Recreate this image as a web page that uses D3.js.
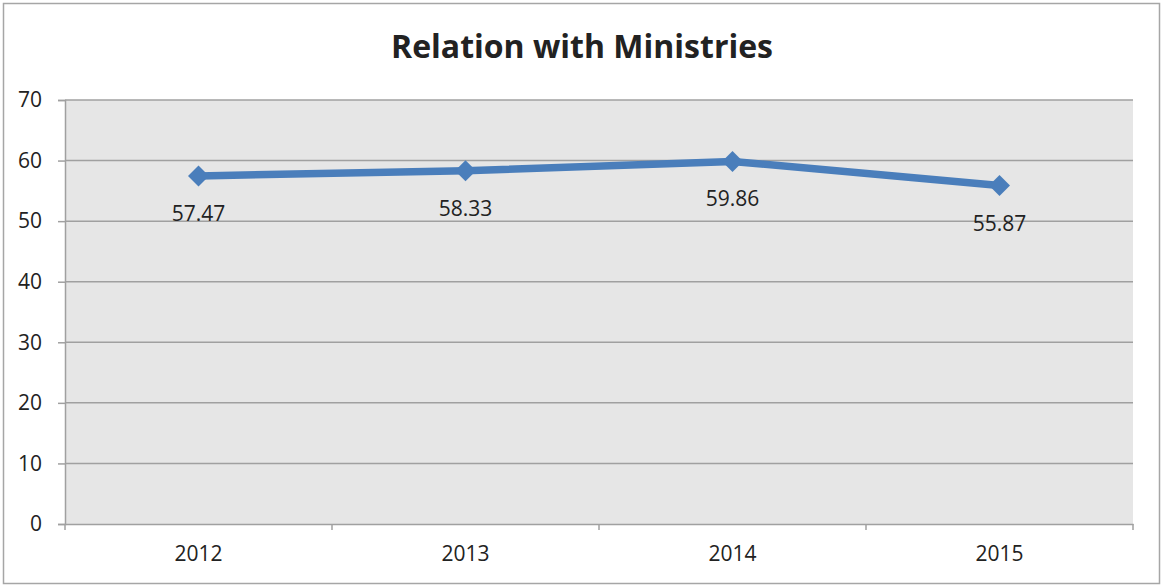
<!DOCTYPE html>
<html>
<head>
<meta charset="utf-8">
<script src="https://cdn.jsdelivr.net/npm/d3@7"></script>
<style>
  body { margin: 0; background: #fff; }
  svg { display: block; }
</style>
</head>
<body>
<div id="chart"></div>
<script>
// Data
const years = ["2012", "2013", "2014", "2015"];
const scores = [57.47, 58.33, 59.86, 55.87];
const yTicks = [0, 10, 20, 30, 40, 50, 60, 70];

var width = 1161;
var height = 585;
var margin = { top: 100, right: 28, bottom: 61, left: 65 };

var svg = d3
  .select("#chart")
  .append("svg")
  .attr("width", width)
  .attr("height", height)
  .style("font-family", "'Open Sans', sans-serif");

// Outer frame
svg
  .append("rect")
  .attr("x", 3.5)
  .attr("y", 3.5)
  .attr("width", width - 5)
  .attr("height", height - 5)
  .attr("fill", "white")
  .attr("stroke", "#a6a6a6")
  .attr("stroke-width", 1.5);

var x = d3
  .scaleBand()
  .domain(years)
  .range([margin.left, width - margin.right]);

var y = d3
  .scaleLinear()
  .domain([0, 70])
  .range([height - margin.bottom, margin.top]);

// Plot background
svg
  .append("rect")
  .attr("x", margin.left)
  .attr("y", margin.top)
  .attr("width", width - margin.left - margin.right)
  .attr("height", height - margin.top - margin.bottom)
  .attr("fill", "#e6e6e6");

// Grid lines
svg
  .selectAll("gridLines")
  .data(yTicks.filter((d) => d > 0))
  .enter()
  .append("line")
  .attr("x1", margin.left)
  .attr("x2", width - margin.right)
  .attr("y1", (d) => y(d))
  .attr("y2", (d) => y(d))
  .attr("stroke", "#a0a0a0")
  .attr("stroke-width", 1.5);

// Y axis
var yAxis = svg
  .append("g")
  .attr("transform", "translate(" + margin.left + ",0)")
  .call(d3.axisLeft(y).tickValues(yTicks).tickSize(7).tickPadding(16));

// X axis: ticks at category boundaries
var xAxis = svg
  .append("g")
  .attr("transform", "translate(0," + y(0) + ")")
  .call(d3.axisBottom(x).tickSize(0).tickPadding(22));

xAxis
  .selectAll("boundaryTicks")
  .data(years.concat(["end"]))
  .enter()
  .append("line")
  .attr("x1", (d, i) => margin.left + i * x.bandwidth())
  .attr("x2", (d, i) => margin.left + i * x.bandwidth())
  .attr("y1", 0)
  .attr("y2", 6)
  .attr("stroke", "#a0a0a0")
  .attr("stroke-width", 1.5);

[yAxis, xAxis].forEach(function (ax) {
  ax.select(".domain").attr("stroke", "#a0a0a0").attr("stroke-width", 1.5);
  ax.selectAll(".tick line").attr("stroke", "#a0a0a0").attr("stroke-width", 1.5);
  ax.selectAll(".tick text")
    .attr("fill", "#222")
    .style("font-size", "21px")
    .style("font-family", "'Open Sans', sans-serif");
});

// Line
var points = years.map((d, i) => ({ year: d, value: scores[i] }));
var line = d3
  .line()
  .x((d) => x(d.year) + x.bandwidth() / 2)
  .y((d) => y(d.value));

svg
  .append("path")
  .datum(points)
  .attr("d", line)
  .attr("fill", "none")
  .attr("stroke", "#4a7ebb")
  .attr("stroke-width", 7.5)
  .attr("stroke-linejoin", "round");

// Diamond markers
svg
  .selectAll("markers")
  .data(points)
  .enter()
  .append("path")
  .attr("d", d3.symbol().type(d3.symbolDiamond2).size(280))
  .attr("transform", function (d) {
    return "translate(" + (x(d.year) + x.bandwidth() / 2) + "," + y(d.value) + ")";
  })
  .attr("fill", "#4a7ebb");

// Value labels
svg
  .selectAll("valueLabels")
  .data(points)
  .enter()
  .append("text")
  .attr("x", (d) => x(d.year) + x.bandwidth() / 2)
  .attr("y", (d) => y(d.value) + 45)
  .attr("text-anchor", "middle")
  .attr("fill", "#222")
  .style("font-size", "21px")
  .text((d) => d.value.toFixed(2));

// Title
svg
  .append("text")
  .attr("x", 582)
  .attr("y", 58)
  .attr("text-anchor", "middle")
  .attr("fill", "#222")
  .style("font-size", "32px")
  .style("font-weight", "bold")
  .text("Relation with Ministries");
</script>
</body>
</html>
